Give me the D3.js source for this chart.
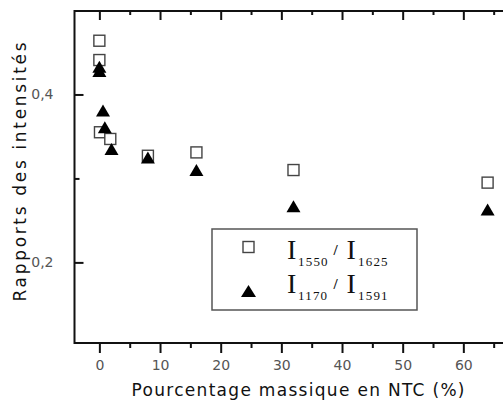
<!DOCTYPE html>
<html><head><meta charset="utf-8">
<script src="https://cdn.jsdelivr.net/npm/d3@7"></script>
<style>body{margin:0;background:#fff;overflow:hidden}</style>
</head><body><svg id="c" width="503" height="401"></svg>
<script>
// Data
const squareX = [0, 0, 0.1, 1.8, 8, 16, 32, 64];
const squareY = [0.464, 0.441, 0.355, 0.347, 0.327, 0.331, 0.310, 0.295];
const triX = [0, 0, 0.6, 0.9, 2, 8, 16, 32, 64];
const triY = [0.433, 0.428, 0.381, 0.361, 0.335, 0.325, 0.310, 0.267, 0.263];
const xTicks = [0, 10, 20, 30, 40, 50, 60];
const xTickLabels = ["0", "10", "20", "30", "40", "50", "60"];
const xMinorTicks = [5, 15, 25, 35, 45, 55, 65];
const yTicks = [0.2, 0.4];
const yTickLabels = ["0,2", "0,4"];
const yMinorTicks = [0.3];
const legendSeries = ["square", "triangle"];
const legendNum = [["1550", "1625"], ["1170", "1591"]];
const xTitle = "Pourcentage massique en NTC (%)";
const yTitle = "Rapports des intensités";

const svg = d3.select("#c");
const x = d3.scaleLinear().domain([-4.1, 70]).range([74.5, 524]);
const y = d3.scaleLinear().domain([0.104, 0.5]).range([343, 10.5]);
const sans = "'DejaVu Sans', sans-serif";

// bottom axis (ticks outward)
svg.append("g").attr("transform", "translate(0,343)")
  .call(d3.axisBottom(x).tickValues(xTicks).tickFormat((d, i) => xTickLabels[i]).tickSizeInner(10).tickSizeOuter(0).tickPadding(7));
svg.append("g").attr("transform", "translate(0,343)")
  .call(d3.axisBottom(x).tickValues(xMinorTicks).tickFormat("").tickSizeInner(5).tickSizeOuter(0));
// top axis (ticks inward)
svg.append("g").attr("transform", "translate(0,11)")
  .call(d3.axisBottom(x).tickValues(xTicks).tickFormat("").tickSizeInner(9).tickSizeOuter(0));
svg.append("g").attr("transform", "translate(0,11)")
  .call(d3.axisBottom(x).tickValues(xMinorTicks).tickFormat("").tickSizeInner(4).tickSizeOuter(0));
// left axis (ticks inward)
svg.append("g").attr("transform", "translate(74.5,0)")
  .call(d3.axisLeft(y).tickValues(yTicks).tickFormat((d, i) => yTickLabels[i]).tickSizeInner(-9).tickSizeOuter(0).tickPadding(21));
svg.append("g").attr("transform", "translate(74.5,0)")
  .call(d3.axisLeft(y).tickValues(yMinorTicks).tickFormat("").tickSizeInner(-5).tickSizeOuter(0));

svg.selectAll(".domain").remove();
svg.selectAll(".tick line").attr("stroke", "#111").attr("stroke-width", 2);
svg.selectAll(".tick text").attr("font-family", sans).attr("font-size", 14).attr("fill", "#555");

// frame
svg.append("path")
  .attr("d", `M524,11 H74.5 V343 H524`)
  .attr("fill", "none").attr("stroke", "#111").attr("stroke-width", 2);

// titles
svg.append("text").attr("x", 298).attr("y", 396).attr("text-anchor", "middle")
  .attr("font-family", sans).attr("font-size", 17).attr("fill", "#111")
  .attr("textLength", 333).attr("lengthAdjust", "spacing").text(xTitle);
svg.append("text").attr("transform", "translate(26,172) rotate(-90)").attr("text-anchor", "middle")
  .attr("font-family", sans).attr("font-size", 17).attr("fill", "#111")
  .attr("textLength", 259).attr("lengthAdjust", "spacing").text(yTitle);

const tri = (cx, cy, w, h) => `M${cx},${cy - h / 2} L${cx + w / 2},${cy + h / 2} L${cx - w / 2},${cy + h / 2} Z`;

// squares
svg.append("g").selectAll("rect").data(squareX.map((d, i) => [d, squareY[i]])).join("rect")
  .attr("x", d => x(d[0]) - 5.5).attr("y", d => y(d[1]) - 5.5)
  .attr("width", 11).attr("height", 11)
  .attr("fill", "#fff").attr("stroke", "#444").attr("stroke-width", 1.4);
// triangles
svg.append("g").selectAll("path").data(triX.map((d, i) => [d, triY[i]])).join("path")
  .attr("d", d => tri(x(d[0]), y(d[1]), 14, 12)).attr("fill", "#000");

// legend
const lg = svg.append("g");
lg.append("rect").attr("x", 212).attr("y", 229).attr("width", 205).attr("height", 81)
  .attr("fill", "#fff").attr("stroke", "#555").attr("stroke-width", 1.5);
const serif = "'Liberation Serif', serif";
legendSeries.forEach((s, i) => {
  const cy = 247 + i * 44;
  if (s === "square") {
    lg.append("rect").attr("x", 243).attr("y", cy - 5.5).attr("width", 11).attr("height", 11)
      .attr("fill", "#fff").attr("stroke", "#444").attr("stroke-width", 1.4);
  } else {
    lg.append("path").attr("d", tri(248.5, cy, 15, 12)).attr("fill", "#000");
  }
  const base = 259 + i * 33.5;
  const t = lg.append("g").attr("font-family", serif).attr("fill", "#111");
  t.append("text").attr("x", 287).attr("y", base).attr("font-size", 28).text("I");
  t.append("text").attr("x", 298).attr("y", base + 7).attr("font-size", 13).attr("letter-spacing", 1.2).text(legendNum[i][0]);
  t.append("text").attr("x", 333.5).attr("y", base - 4).attr("font-size", 15).attr("font-weight", "bold").text("/");
  t.append("text").attr("x", 346.5).attr("y", base).attr("font-size", 28).text("I");
  t.append("text").attr("x", 358).attr("y", base + 7).attr("font-size", 13).attr("letter-spacing", 1.2).text(legendNum[i][1]);
});
</script></body></html>
